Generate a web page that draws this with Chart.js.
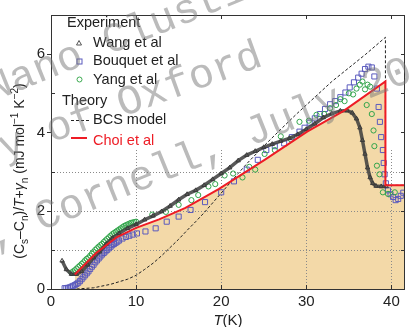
<!DOCTYPE html>
<html>
<head>
<meta charset="utf-8">
<script src="https://cdn.jsdelivr.net/npm/chart.js@4.4.1/dist/chart.umd.min.js"></script>
<style>
  html, body { margin: 0; padding: 0; background: #fff; }
  canvas { display: block; }
</style>
</head>
<body>
<canvas id="heatChart" width="410" height="327"></canvas>
<script>
// tick labels
const xTicks = [0, 10, 20, 30, 40];
const yTicks = [0, 2, 4, 6];

// Wang et al (triangles)
const wangT = [1.3, 1.8, 2.4, 3.0, 3.6, 4.3, 5.0, 5.7, 6.5, 7.2, 8.0, 9.0, 10.0, 11.0, 12.0, 13.0, 14.0, 15.0, 16.0, 17.0,
  18.0, 19.0, 20.0, 21.0, 22.0, 23.0, 24.0, 25.0, 26.0, 27.0, 28.0, 29.0, 30.0, 31.0, 32.0, 33.0, 34.0, 34.8, 35.4, 35.9,
  36.3, 36.6, 36.9, 37.2, 37.5, 37.8, 38.2, 38.8, 39.4];
const wangC = [0.72, 0.5, 0.38, 0.38, 0.45, 0.62, 0.8, 0.95, 1.15, 1.3, 1.42, 1.55, 1.65, 1.77, 1.87, 1.98, 2.12, 2.28, 2.42, 2.52,
  2.65, 2.8, 2.95, 3.1, 3.28, 3.42, 3.52, 3.62, 3.7, 3.78, 3.85, 3.95, 4.08, 4.22, 4.38, 4.48, 4.55, 4.56, 4.5, 4.35,
  4.12, 3.8, 3.45, 3.1, 2.85, 2.7, 2.63, 2.62, 2.62];

// Bouquet et al (squares)
const bouquetT = [1.6, 1.8, 2.0, 2.2, 2.4, 2.6, 2.8, 3.0, 3.2, 3.4, 3.6, 3.8, 4.0, 4.2, 4.4, 4.6, 4.8, 5.0, 5.2, 5.4, 5.6, 5.8,
  6.0, 6.2, 6.4, 6.6, 6.8, 7.0, 7.2, 7.4, 7.6, 7.8, 8.0, 8.4, 8.8, 9.2, 9.6, 10.1,
  11.1, 12.3, 13.6, 15.0, 16.4, 18.1, 20.0, 21.5, 23.0, 24.3, 25.3, 26.3, 27.4, 28.3, 29.2, 29.8, 30.4, 31.0, 31.6, 32.2,
  32.8, 33.4, 34.0, 34.6, 35.1, 35.6, 36.1, 36.5, 36.9, 37.3, 37.7, 38.0, 38.3, 38.5, 38.65, 38.8, 39.0, 39.1, 39.2, 39.35,
  39.6, 39.9, 40.2, 40.5, 40.8, 41.1, 41.4];
const bouquetC = [0.02, 0.02, 0.03, 0.04, 0.06, 0.08, 0.1, 0.13, 0.16, 0.2, 0.25, 0.3, 0.35, 0.4, 0.45, 0.51, 0.57, 0.62, 0.68, 0.73, 0.78, 0.83,
  0.88, 0.92, 0.96, 1.0, 1.04, 1.08, 1.12, 1.15, 1.18, 1.21, 1.24, 1.29, 1.33, 1.36, 1.39, 1.42,
  1.47, 1.55, 1.72, 1.85, 2.02, 2.22, 2.47, 2.75, 3.05, 3.3, 3.55, 3.65, 3.72, 3.88, 4.02, 4.12, 4.25, 4.36, 4.47, 4.6,
  4.72, 4.8, 4.9, 5.02, 5.15, 5.28, 5.4, 5.5, 5.62, 5.68, 5.66, 5.43, 5.12, 4.65, 4.27, 3.88, 3.55, 3.22, 2.93, 2.7,
  2.52, 2.42, 2.35, 2.27, 2.3, 2.38, 2.46];

// Yang et al (circles)
const yangT = [2.4, 2.6, 2.8, 3.0, 3.2, 3.4, 3.6, 3.8, 4.0, 4.2, 4.4, 4.6, 4.8, 5.0, 5.2, 5.4, 5.6, 5.8, 6.0, 6.2, 6.4, 6.6, 6.8,
  7.0, 7.2, 7.4, 7.6, 7.8, 8.0, 8.2, 8.4, 8.6, 8.8, 9.0, 9.2, 9.4, 9.6, 9.8, 10.0,
  11.9, 13.5, 15.0, 16.5, 17.3, 18.5, 19.3, 20.4, 21.4, 22.5, 23.3, 24.0, 25.1, 26.3, 27.0, 28.2, 29.2, 30.3, 31.2, 32.1,
  32.8, 33.5, 34.0, 34.5, 35.0, 35.5, 35.9, 36.3, 36.6, 36.9, 37.1, 37.2, 37.5, 37.7, 37.9, 38.0, 38.3, 38.6, 39.0, 39.6, 40.4];
const yangC = [0.42, 0.45, 0.48, 0.52, 0.56, 0.6, 0.64, 0.68, 0.73, 0.77, 0.8, 0.85, 0.9, 0.95, 1.0, 1.04, 1.08, 1.12, 1.15, 1.2, 1.24, 1.28, 1.32,
  1.36, 1.4, 1.43, 1.46, 1.49, 1.52, 1.55, 1.58, 1.61, 1.63, 1.65, 1.67, 1.69, 1.7, 1.71, 1.72,
  1.9, 1.97, 2.15, 2.27, 2.4, 2.62, 2.68, 2.9, 2.95, 2.85, 3.12, 3.05, 3.45, 3.55, 3.9, 3.82, 4.27, 4.3, 4.45, 4.47,
  4.62, 4.7, 4.85, 4.8, 5.0, 4.97, 5.12, 5.22, 5.3, 5.1, 4.7, 5.22, 5.17, 4.47, 4.05, 3.65, 3.15, 2.93, 2.47, 2.43, 2.47];

// BCS model (dashed)
const bcsT = [3.0, 5.0, 7.0, 9.0, 10.0, 11.0, 12.0, 13.0, 14.0, 15.0, 16.0, 17.0, 18.0, 19.0, 20.0, 21.0, 22.0, 23.0,
  25.0, 27.0, 29.0, 31.0, 33.0, 35.0, 37.0, 39.3, 39.3, 41.6];
const bcsC = [0.0, 0.03, 0.12, 0.25, 0.35, 0.5, 0.66, 0.85, 1.06, 1.27, 1.5, 1.72, 1.95, 2.2, 2.45, 2.7, 2.95, 3.2,
  3.65, 4.08, 4.5, 4.9, 5.3, 5.65, 6.0, 6.43, 2.65, 2.65];

// Choi et al (red, filled)
const choiT = [2.8, 5.3, 7.7, 10.0, 12.7, 15.8, 19.7, 25.1, 30.1, 34.4, 39.3, 39.3, 41.6];
const choiC = [0.37, 0.92, 1.32, 1.56, 1.78, 2.07, 2.55, 3.3, 4.02, 4.55, 5.3, 2.65, 2.65];

const FONT = '"Liberation Sans", Arial, sans-serif';
const toPts = (xs, ys) => xs.map((x, i) => ({ x: x, y: ys[i] }));

// grid + frame + legend + titles + watermark
const decorPlugin = {
    id: 'decor',
    beforeDatasetsDraw(chart) {
        const { ctx, chartArea: a, scales: { x, y } } = chart;
        ctx.save();
        ctx.strokeStyle = '#8a8a8a';
        ctx.lineWidth = 1;
        ctx.setLineDash([1, 2]);
        [1, 2, 3].forEach(v => {
            const py = Math.round(y.getPixelForValue(v)) + 0.5;
            ctx.beginPath(); ctx.moveTo(a.left, py); ctx.lineTo(a.right, py); ctx.stroke();
        });
        [10, 20, 30, 40].forEach(v => {
            const px = Math.round(x.getPixelForValue(v)) + 0.5;
            ctx.beginPath(); ctx.moveTo(px, a.bottom); ctx.lineTo(px, y.getPixelForValue(3.6)); ctx.stroke();
        });
        ctx.restore();
    },
    afterDraw(chart) {
        const { ctx, chartArea: a, scales: { x, y } } = chart;
        ctx.save();
        // frame
        ctx.strokeStyle = '#333';
        ctx.lineWidth = 1;
        ctx.strokeRect(a.left + 0.5, a.top + 0.5, a.right - a.left - 1, a.bottom - a.top);
        // ticks
        ctx.beginPath();
        for (let v = 0; v <= 7; v++) {
            const py = Math.round(y.getPixelForValue(v)) + 0.5;
            if (v % 2 === 0) { ctx.moveTo(a.left - 4, py); ctx.lineTo(a.left, py); }
            else { ctx.moveTo(a.left, py); ctx.lineTo(a.left + 4, py); }
            ctx.moveTo(a.right - 4, py); ctx.lineTo(a.right, py);
        }
        xTicks.forEach(v => {
            const px = Math.round(x.getPixelForValue(v)) + 0.5;
            ctx.moveTo(px, a.bottom); ctx.lineTo(px, a.bottom - 4);
            ctx.moveTo(px, a.top); ctx.lineTo(px, a.top + 4);
        });
        ctx.stroke();

        // legend
        ctx.fillStyle = '#222';
        ctx.font = '14.5px ' + FONT;
        ctx.textBaseline = 'middle';
        ctx.textAlign = 'left';
        ctx.fillText('Experiment', 67, 23);
        ctx.fillText('Wang et al', 93, 43);
        ctx.fillText('Bouquet et al', 93, 61);
        ctx.fillText('Yang et al', 93, 80);
        ctx.fillText('Theory', 62, 101);
        ctx.fillText('BCS model', 93, 120);
        ctx.fillStyle = '#ee1c25';
        ctx.fillText('Choi et al', 93, 141);
        ctx.lineWidth = 1;
        ctx.strokeStyle = '#555';
        ctx.beginPath(); ctx.moveTo(79, 40.5); ctx.lineTo(81.5, 45); ctx.lineTo(76.5, 45); ctx.closePath(); ctx.stroke();
        ctx.strokeStyle = 'rgb(90,90,190)';
        ctx.strokeRect(77, 59, 5, 5);
        ctx.strokeStyle = 'rgb(60,170,80)';
        ctx.beginPath(); ctx.arc(79.5, 79.5, 2.5, 0, Math.PI * 2); ctx.stroke();
        ctx.strokeStyle = '#222';
        ctx.setLineDash([3, 2]);
        ctx.beginPath(); ctx.moveTo(71, 120.5); ctx.lineTo(90, 120.5); ctx.stroke();
        ctx.setLineDash([]);
        ctx.strokeStyle = '#ee1c25';
        ctx.lineWidth = 2;
        ctx.beginPath(); ctx.moveTo(71, 138); ctx.lineTo(87, 138); ctx.stroke();

        // x title
        ctx.fillStyle = '#222';
        ctx.textBaseline = 'alphabetic';
        ctx.font = 'italic 15px ' + FONT;
        const tw = ctx.measureText('T').width;
        ctx.font = '15px ' + FONT;
        const kw = ctx.measureText('(K)').width;
        let sx = 228 - (tw + kw) / 2;
        ctx.font = 'italic 15px ' + FONT;
        ctx.fillText('T', sx, 325);
        ctx.font = '15px ' + FONT;
        ctx.fillText('(K)', sx + tw, 325);

        // y title (rotated, with sub/superscripts)
        const segs = [['(C', 'n'], ['s', 'sub'], ['\u2013C', 'n'], ['n', 'sub'], [')/', 'n'], ['T', 'i'], ['+', 'n'],
            ['\u03b3', 'i'], ['n', 'sub'], [' (mJ mol', 'n'], ['\u22121', 'sup'], [' K', 'n'], ['\u22122', 'sup'], [')', 'n']];
        const fontFor = s => s === 'i' ? 'italic 14px ' + FONT : (s === 'n' ? '14px ' + FONT : '10px ' + FONT);
        let total = 0;
        segs.forEach(([t, s]) => { ctx.font = fontFor(s); total += ctx.measureText(t).width; });
        ctx.translate(24, 171);
        ctx.rotate(-Math.PI / 2);
        let cx = -total / 2;
        segs.forEach(([t, s]) => {
            ctx.font = fontFor(s);
            const dy = s === 'sub' ? 4 : (s === 'sup' ? -6 : 0);
            ctx.fillText(t, cx, dy);
            cx += ctx.measureText(t).width;
        });
        ctx.restore();

        // watermark
        ctx.save();
        ctx.fillStyle = 'rgba(120,120,120,0.5)';
        ctx.font = '42px "Liberation Mono", monospace';
        ctx.textBaseline = 'alphabetic';
        const marks = [['Nano Clustin', -8, 102, 22], ['y of Oxford', 4, 160, 20], [', Cornell, July 20', -6, 250, 22]];
        marks.forEach(([t, px, py, ang]) => {
            ctx.save();
            ctx.translate(px, py);
            ctx.rotate(-ang * Math.PI / 180);
            ctx.fillText(t, 0, 0);
            ctx.restore();
        });
        ctx.restore();
    }
};

new Chart(document.getElementById('heatChart'), {
    type: 'scatter',
    data: {
        datasets: [
            {
                label: 'Choi et al',
                data: toPts(choiT, choiC),
                showLine: true,
                borderColor: '#ee1c25',
                borderWidth: 2,
                pointRadius: 0,
                fill: 'origin',
                backgroundColor: 'rgb(243,217,168)',
                tension: 0
            },
            {
                label: 'Wang et al',
                data: toPts(wangT, wangC),
                showLine: true,
                borderColor: 'rgba(60,60,60,0.85)',
                borderWidth: 3.5,
                pointStyle: 'triangle',
                pointRadius: 2.5,
                pointBorderColor: '#3a3a3a',
                pointBackgroundColor: 'rgba(0,0,0,0)',
                pointBorderWidth: 1
            },
            {
                label: 'Yang et al',
                data: toPts(yangT, yangC),
                pointStyle: 'circle',
                pointRadius: 2.6,
                pointBorderColor: 'rgb(50,165,75)',
                pointBackgroundColor: 'rgba(0,0,0,0)',
                pointBorderWidth: 1
            },
            {
                label: 'Bouquet et al',
                data: toPts(bouquetT, bouquetC),
                pointStyle: 'rect',
                pointRadius: 3.6,
                pointBorderColor: 'rgb(90,90,190)',
                pointBackgroundColor: 'rgba(0,0,0,0)',
                pointBorderWidth: 1
            },
            {
                label: 'BCS model',
                data: toPts(bcsT, bcsC),
                showLine: true,
                borderColor: '#222',
                borderWidth: 1,
                borderDash: [3, 2],
                pointRadius: 0
            }
        ]
    },
    options: {
        responsive: false,
        animation: false,
        devicePixelRatio: 1,
        layout: { padding: { top: 8, right: 1, left: 0, bottom: 0 } },
        plugins: {
            legend: { display: false },
            tooltip: { enabled: false },
            filler: { drawTime: 'beforeDraw' }
        },
        scales: {
            x: {
                type: 'linear',
                min: 0,
                max: 41.6,
                grid: { display: false, drawTicks: false },
                border: { display: false },
                afterBuildTicks: s => { s.ticks = xTicks.map(v => ({ value: v })); },
                afterFit: s => { s.height = 38; },
                ticks: { color: '#222', padding: 4, maxRotation: 0, font: { size: 15, family: FONT } }
            },
            y: {
                type: 'linear',
                min: 0,
                max: 7,
                grid: { display: false, drawTicks: false },
                border: { display: false },
                afterBuildTicks: s => { s.ticks = yTicks.map(v => ({ value: v })); },
                afterFit: s => { s.width = 51; },
                ticks: { color: '#222', padding: 6, font: { size: 15, family: FONT } }
            }
        }
    },
    plugins: [decorPlugin]
});
</script>
</body>
</html>
